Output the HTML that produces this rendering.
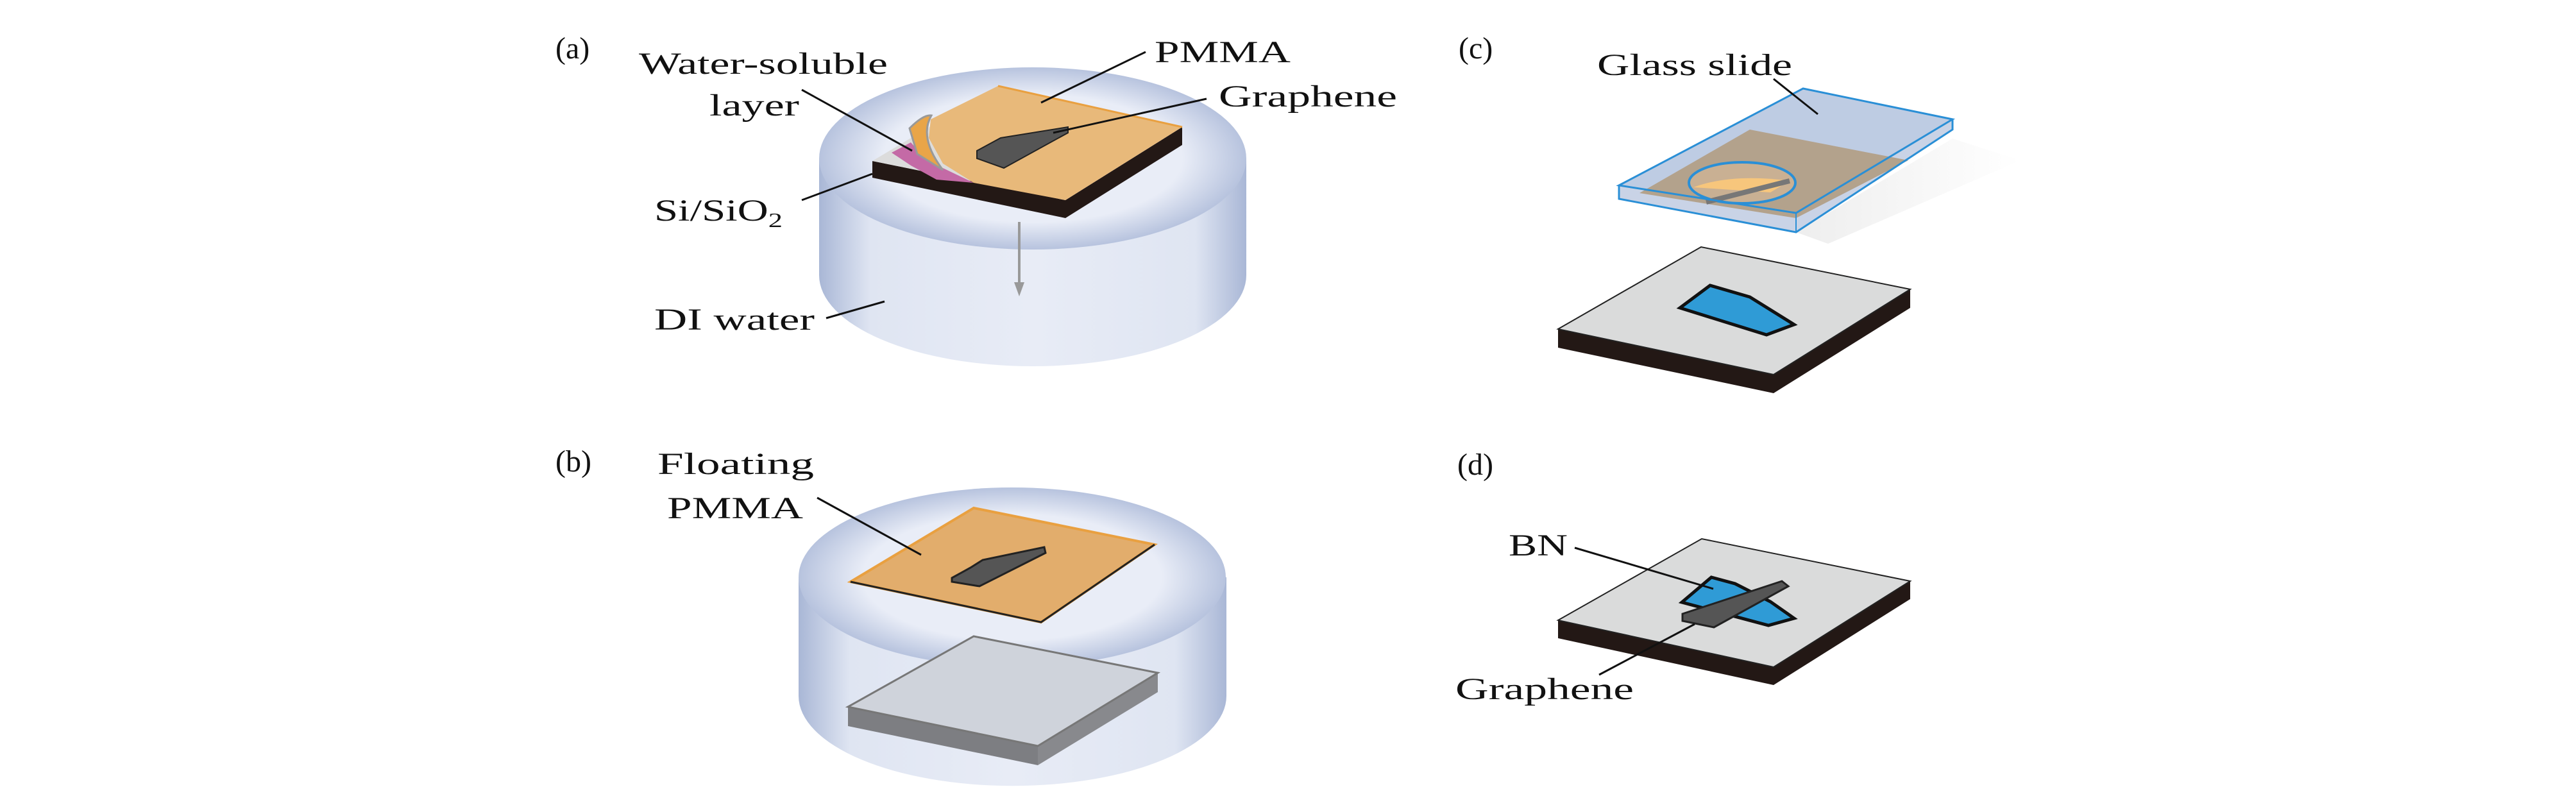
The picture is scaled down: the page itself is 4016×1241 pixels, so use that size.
<!DOCTYPE html>
<html><head><meta charset="utf-8"><style>
html,body{margin:0;padding:0;background:#fff}
svg{display:block}
text{font-family:"Liberation Serif",serif;fill:#111}
</style></head><body>
<svg width="4016" height="1241" viewBox="0 0 4016 1241" xmlns="http://www.w3.org/2000/svg">
<defs>
<linearGradient id="cyl" x1="0" x2="1" y1="0" y2="0">
<stop offset="0" stop-color="#a9b7d6"/><stop offset="0.12" stop-color="#dfe5f2"/><stop offset="0.5" stop-color="#e8ecf6"/><stop offset="0.88" stop-color="#dfe5f2"/><stop offset="1" stop-color="#a9b7d6"/>
</linearGradient>
<radialGradient id="top" cx="0.5" cy="0.5" r="0.5">
<stop offset="0.7" stop-color="#e9edf7"/><stop offset="1" stop-color="#b7c3de"/>
</radialGradient>
<linearGradient id="sh" x1="0" x2="1" y1="0" y2="0">
<stop offset="0" stop-color="#e6e6e6"/><stop offset="1" stop-color="#ffffff"/>
</linearGradient>
</defs>

<!-- (a) -->
<path d="M1277 247 L1277 429 A333 142 0 0 0 1943 429 L1943 247 Z" fill="url(#cyl)"/>
<ellipse cx="1610" cy="247" rx="333" ry="142" fill="url(#top)"/>
<polygon points="1360,251 1661,312 1661,340 1360,277" fill="#231815"/>
<polygon points="1661,312 1843,198 1843,226 1661,340" fill="#231815"/>
<polygon points="1360,251 1556,134 1843,198 1661,312" fill="#dcdcdc"/>
<polygon points="1390,238 1420,222 1445,250 1518,285 1460,280 1420,258" fill="#c46aa6"/>
<path d="M1418,200 Q1440,178 1452,180 Q1432,215 1470,265 L1430,240 Z" fill="#e9a548" stroke="#999" stroke-width="3"/>
<polygon points="1451,186 1556,134 1843,198 1661,312 1518,285 1470,255 1448,215" fill="#e8b97a"/>
<polyline points="1556,134 1843,198" fill="none" stroke="#e9a040" stroke-width="3"/>
<polygon points="1523,235 1560,215 1665,198 1665,207 1565,262 1523,247" fill="#555" stroke="#222" stroke-width="2"/>
<line x1="1589" y1="346" x2="1589" y2="450" stroke="#999" stroke-width="4"/>
<polygon points="1581,440 1597,440 1589,462" fill="#999"/>
<g stroke="#111" stroke-width="3">
<line x1="1250" y1="140" x2="1422" y2="235"/>
<line x1="1786" y1="81" x2="1623" y2="160"/>
<line x1="1881" y1="154" x2="1642" y2="207"/>
<line x1="1250" y1="312" x2="1360" y2="271"/>
<line x1="1288" y1="496" x2="1379" y2="470"/>
</g>
<text x="866" y="91" font-size="48">(a)</text>
<text x="996" y="115" font-size="48" textLength="388" lengthAdjust="spacingAndGlyphs">Water-soluble</text>
<text x="1106" y="180" font-size="48" textLength="140" lengthAdjust="spacingAndGlyphs">layer</text>
<text x="1800" y="97" font-size="48" textLength="212" lengthAdjust="spacingAndGlyphs">PMMA</text>
<text x="1900" y="166" font-size="48" textLength="278" lengthAdjust="spacingAndGlyphs">Graphene</text>
<text x="1020" y="344" font-size="48" textLength="200" lengthAdjust="spacingAndGlyphs">Si/SiO<tspan font-size="32" dy="10">2</tspan></text>
<text x="1020" y="514" font-size="48" textLength="250" lengthAdjust="spacingAndGlyphs">DI water</text>

<!-- (b) -->
<path d="M1245 900 L1245 1085 A333 140 0 0 0 1912 1085 L1912 900 Z" fill="url(#cyl)"/>
<ellipse cx="1578" cy="900" rx="333" ry="140" fill="url(#top)"/>
<polygon points="1518,792 1800,849 1623,970 1326,907" fill="#e2ad6c" stroke="#e9a040" stroke-width="4"/>
<polyline points="1326,907 1623,970 1800,849" fill="none" stroke="#222" stroke-width="3"/>
<polygon points="1484,901 1513,885 1532,873 1628,853 1630,862 1527,914 1484,907" fill="#555" stroke="#222" stroke-width="3"/>
<line x1="1274" y1="776" x2="1436" y2="865" stroke="#111" stroke-width="3"/>
<polygon points="1322,1102 1618,1163 1618,1193 1322,1132" fill="#7d7e82"/>
<polygon points="1618,1163 1805,1049 1805,1079 1618,1193" fill="#88898d"/>
<polygon points="1518,992 1805,1049 1618,1163 1322,1102" fill="#cfd3db" stroke="#777" stroke-width="3"/>
<text x="866" y="735" font-size="48">(b)</text>
<text x="1025" y="739" font-size="48" textLength="244" lengthAdjust="spacingAndGlyphs">Floating</text>
<text x="1040" y="808" font-size="48" textLength="212" lengthAdjust="spacingAndGlyphs">PMMA</text>

<!-- (c) -->
<text x="2274" y="91" font-size="48">(c)</text>
<text x="2490" y="117" font-size="48" textLength="304" lengthAdjust="spacingAndGlyphs">Glass slide</text>
<polygon points="2800,362 3044,216 3150,250 2850,380" fill="url(#sh)" opacity="0.7"/>
<polygon points="2524,310 2800,362 3044,202 3044,186 2800,332 2524,289" fill="#c9d3e6"/>
<polygon points="2524,289 2811,138 3044,186 2800,332" fill="#b7c6e0" opacity="0.9"/>
<polygon points="2556,301 2728,202 2975,250 2800,340" fill="#b3a28c"/>
<ellipse cx="2716" cy="285" rx="83" ry="32" fill="#c9b093" stroke="#2a8fd6" stroke-width="4"/>
<path d="M2640,292 Q2700,270 2790,282 L2760,300 Z" fill="#f7c67c"/>
<line x1="2660" y1="315" x2="2790" y2="282" stroke="#777" stroke-width="8"/>
<polygon points="2524,289 2811,138 3044,186 2800,332" fill="none" stroke="#2a8fd6" stroke-width="3"/>
<polyline points="2524,289 2524,310 2800,362 3044,202 3044,186" fill="none" stroke="#2a8fd6" stroke-width="3"/>
<line x1="2800" y1="332" x2="2800" y2="362" stroke="#2a8fd6" stroke-width="2"/>
<line x1="2765" y1="123" x2="2834" y2="178" stroke="#111" stroke-width="3"/>
<polygon points="2429,513 2765,584 2765,613 2429,542" fill="#231815"/>
<polygon points="2765,584 2978,451 2978,480 2765,613" fill="#231815"/>
<polygon points="2429,513 2652,385 2978,451 2765,584" fill="#dadbdb" stroke="#222" stroke-width="2"/>
<polygon points="2619,480 2666,445 2728,463 2797,506 2754,522" fill="#2f9bd6" stroke="#111" stroke-width="5"/>

<!-- (d) -->
<text x="2272" y="740" font-size="48">(d)</text>
<polygon points="2429,967 2765,1040 2765,1068 2429,995" fill="#231815"/>
<polygon points="2765,1040 2978,906 2978,934 2765,1068" fill="#231815"/>
<polygon points="2429,967 2653,840 2978,906 2765,1040" fill="#dadbdb" stroke="#222" stroke-width="2"/>
<polygon points="2622,939 2668,900 2705,910 2760,938 2797,964 2757,975" fill="#2f9bd6" stroke="#111" stroke-width="5"/>
<polygon points="2623,957 2778,906 2788,914 2672,978 2623,968" fill="#555" stroke="#222" stroke-width="3"/>
<line x1="2455" y1="854" x2="2671" y2="918" stroke="#111" stroke-width="3"/>
<line x1="2493" y1="1052" x2="2642" y2="973" stroke="#111" stroke-width="3"/>
<text x="2352" y="866" font-size="48" textLength="92" lengthAdjust="spacingAndGlyphs">BN</text>
<text x="2269" y="1090" font-size="48" textLength="278" lengthAdjust="spacingAndGlyphs">Graphene</text>
</svg>
</body></html>
